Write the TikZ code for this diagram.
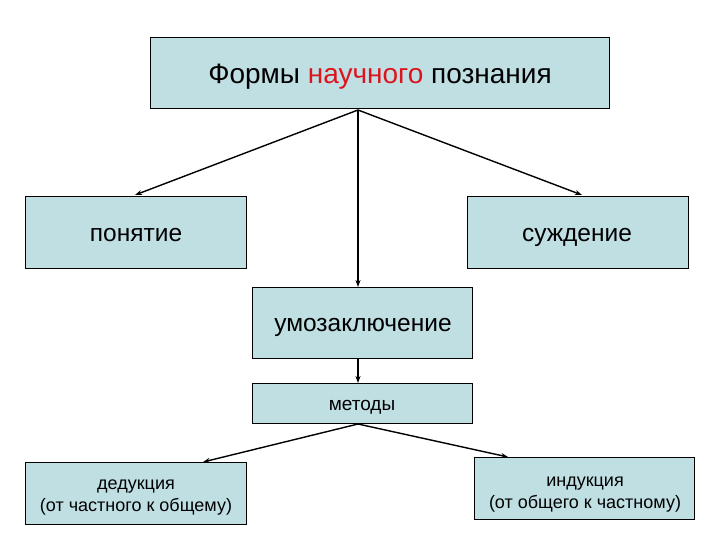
\documentclass[tikz,border=0pt]{standalone}
\usepackage{fontspec}
\setmainfont{Liberation Sans}
\usetikzlibrary{arrows.meta}
\definecolor{boxfill}{RGB}{191,223,227}
\definecolor{titlered}{RGB}{220,20,30}
\begin{document}
\begin{tikzpicture}[x=1pt,y=-1pt,
  box/.style={draw=black,line width=0.9pt,fill=boxfill,inner sep=0pt,anchor=north west},
  conn/.style={line width=1.4pt,-{Stealth[length=7pt,width=5pt]}},
  lbl/.style={anchor=base,inner sep=0pt},
  big/.style={lbl,font=\fontsize{24.5}{29}\selectfont},
  small/.style={lbl,font=\fontsize{18}{22}\selectfont}]
\useasboundingbox (0,0) rectangle (720,540);
\node[box,minimum width=459pt,minimum height=71pt] (top) at (150,37) {};
\node[lbl,font=\fontsize{28}{33}\selectfont] at (380,84) (toptext) {Формы \textcolor{titlered}{научного} познания};
\node[box,minimum width=221pt,minimum height=72pt] (pon) at (25,196) {};
\node[big] at (136,241) (pontext) {понятие};
\node[box,minimum width=221pt,minimum height=72pt] (suzh) at (467,196) {};
\node[big] at (577,241) (suzhtext) {суждение};
\node[box,minimum width=220pt,minimum height=71pt] (umo) at (252,287) {};
\node[big] at (363,331) (umotext) {умозаключение};
\node[box,minimum width=220pt,minimum height=40pt] (met) at (252,383) {};
\node[lbl,font=\fontsize{19}{23}\selectfont] at (362,410) (mettext) {методы};
\node[box,minimum width=221pt,minimum height=62pt] (ded) at (25,462) {};
\node[small] at (136,489) (dedtext1) {дедукция};
\node[small] at (136,511) (dedtext2) {(от частного к общему)};
\node[box,minimum width=220pt,minimum height=62pt] (ind) at (474,457) {};
\node[small] at (585,486) (indtext1) {индукция};
\node[small] at (585,508) (indtext2) {(от общего к частному)};
\coordinate (apex) at (358,110);
\coordinate (metb) at (358,424);
\draw[conn] (apex) -- (135,195);
\draw[conn] (apex) -- (582,195);
\draw[conn] (apex) -- (umo.north -| apex);
\draw[conn] (umo.south -| apex) -- (met.north -| apex);
\draw[conn] (metb) -- (203,462);
\draw[conn] (metb) -- (508,457);
\end{tikzpicture}
\end{document}
